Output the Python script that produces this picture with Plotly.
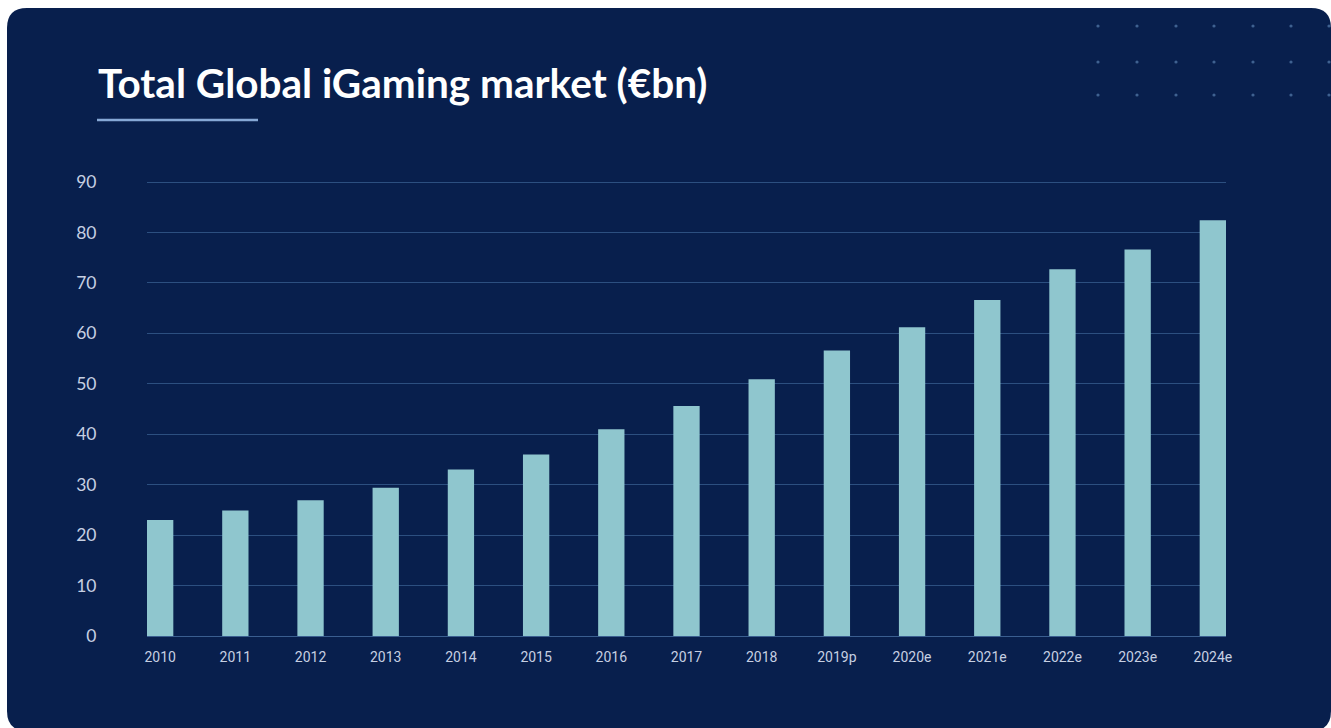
import plotly.graph_objects as go

# Market size in €bn, by year (p = provisional, e = estimate)
years = ["2010", "2011", "2012", "2013", "2014", "2015", "2016", "2017",
         "2018", "2019p", "2020e", "2021e", "2022e", "2023e", "2024e"]
market_bn = [23.0, 24.9, 26.9, 29.4, 33.0, 36.0, 41.0, 45.6,
             50.9, 56.6, 61.2, 66.6, 72.7, 76.6, 82.4]
y_ticks = [0, 10, 20, 30, 40, 50, 60, 70, 80, 90]

W, H = 1331, 728
ML, MR, MT, MB = 147, 105, 180, 92
PW, PH = W - ML - MR, H - MT - MB

CARD = "#081f4d"
BAR = "#8fc6ce"
GRID = "#2c4f80"
TICK = "#c6cfe2"


def px(x):
    return (x - ML) / PW


def py(y):
    return (H - MB - y) / PH


def rounded_rect(x0, y0, x1, y1, r):
    pts = [
        f"M {px(x0 + r)},{py(y0)}",
        f"L {px(x1 - r)},{py(y0)}",
        f"Q {px(x1)},{py(y0)} {px(x1)},{py(y0 + r)}",
        f"L {px(x1)},{py(y1 - r)}",
        f"Q {px(x1)},{py(y1)} {px(x1 - r)},{py(y1)}",
        f"L {px(x0 + r)},{py(y1)}",
        f"Q {px(x0)},{py(y1)} {px(x0)},{py(y1 - r)}",
        f"L {px(x0)},{py(y0 + r)}",
        f"Q {px(x0)},{py(y0)} {px(x0 + r)},{py(y0)}",
        "Z",
    ]
    return " ".join(pts)


fig = go.Figure(
    go.Bar(
        x=years,
        y=market_bn,
        marker=dict(color=BAR, line=dict(width=0)),
        width=0.35,
        hoverinfo="x+y",
    )
)

shapes = [
    dict(type="path", xref="paper", yref="paper",
         path=rounded_rect(7, 8, 1331, 731, 20),
         fillcolor=CARD, line=dict(width=0), layer="below"),
    dict(type="line", xref="paper", yref="paper",
         x0=px(97), x1=px(258), y0=py(120), y1=py(120),
         line=dict(color="#86a8d6", width=2.5)),
]

# decorative dot grid in the top-right corner
for dy in [26, 62, 95]:
    for dx in [1098, 1137, 1176, 1214, 1253, 1291, 1329]:
        shapes.append(dict(type="circle", xref="paper", yref="paper",
                           x0=px(dx - 1.6), x1=px(dx + 1.6),
                           y0=py(dy - 1.6), y1=py(dy + 1.6),
                           fillcolor="#3f6190", line=dict(width=0),
                           layer="below"))

fig.update_layout(
    width=W, height=H,
    margin=dict(l=ML, r=MR, t=MT, b=MB, pad=0),
    paper_bgcolor="white",
    plot_bgcolor="rgba(0,0,0,0)",
    showlegend=False,
    shapes=shapes,
    annotations=[
        dict(text="<b>Total Global iGaming market (€bn)</b>",
             xref="paper", yref="paper", x=px(96), y=py(83),
             xanchor="left", yanchor="middle", showarrow=False,
             font=dict(family="Lato", size=40.5, color="white")),
    ],
    xaxis=dict(
        type="category",
        range=[-0.175, len(years) - 1 + 0.175],
        showgrid=False,
        zeroline=False,
        showline=False,
        ticks="outside", ticklen=8, tickcolor="rgba(0,0,0,0)",
        tickfont=dict(family="Roboto", size=14, color=TICK),
    ),
    yaxis=dict(
        range=[0, 90.4],
        tickvals=y_ticks,
        showgrid=True, gridcolor=GRID, gridwidth=1,
        zeroline=True, zerolinecolor="#3a5e90", zerolinewidth=1,
        showline=False,
        ticks="outside", ticklen=46, tickcolor="rgba(0,0,0,0)",
        tickfont=dict(family="Lato", size=17.5, color=TICK),
    ),
)

fig.write_html("out.html")
